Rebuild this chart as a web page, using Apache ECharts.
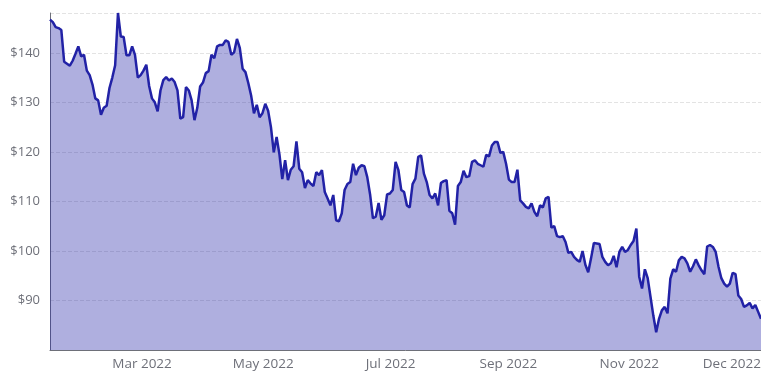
<!DOCTYPE html>
<html>
<head>
<meta charset="utf-8">
<script src="https://cdn.jsdelivr.net/npm/echarts@6/dist/echarts.min.js"></script>
<style>
  html, body { margin: 0; padding: 0; background: #ffffff; }
  #chart { width: 761px; height: 375px; }
</style>
</head>
<body>
<div id="chart"></div>
<script>
// Trading-day window and market holidays
const startDate = '2021-12-29';
const endDate = '2022-12-28';
const holidays = ['2022-01-17', '2022-02-21', '2022-04-15', '2022-05-30',
                  '2022-06-20', '2022-07-04', '2022-09-05', '2022-11-24', '2022-12-26'];

// Closing prices (USD), one per trading day, grouped by month
const dec2021 = [146.7, 146.2, 145.2];
const jan = [145.0, 144.6, 138.2, 137.8, 137.4, 138.4, 139.8, 141.3, 139.3, 139.6,
             136.4, 135.5, 133.6, 130.8, 130.4, 127.5, 128.9, 129.3, 132.9, 135.0];
const feb = [137.5, 148.04, 143.3, 143.2, 139.5, 139.5, 141.3, 139.6, 135.0, 135.5,
             136.4, 137.6, 133.3, 130.8, 130.0, 128.2, 132.4, 134.5, 135.1];
const mar = [134.4, 134.8, 134.1, 132.4, 126.7, 127.0, 133.1, 132.4, 130.4, 126.4,
             128.9, 133.2, 134.0, 135.9, 136.3, 139.6, 138.9, 141.3, 141.6, 141.6,
             142.5, 142.2, 139.6];
const apr = [140.1, 142.8, 141.0, 136.8, 136.1, 133.9, 131.4, 127.8, 129.5, 127.0,
             127.8, 129.7, 128.3, 125.0, 119.9, 123.0, 119.5, 114.5, 118.3, 114.3];
const may = [116.4, 117.1, 122.1, 116.6, 115.9, 112.7, 114.3, 113.6, 113.1, 115.9,
             115.3, 116.3, 111.9, 110.6, 109.2, 111.3, 106.2, 106.0, 107.6, 112.3, 113.5];
const jun = [113.9, 117.6, 115.3, 116.8, 117.3, 117.1, 114.9, 111.4, 106.6, 106.9,
             109.7, 106.3, 107.2, 111.4, 111.6, 112.3, 118.0, 116.3, 112.3, 111.9, 109.2];
const jul = [108.8, 113.5, 114.6, 119.0, 119.3, 115.6, 113.9, 111.3, 110.6, 111.6,
             109.2, 113.7, 114.1, 114.3, 108.1, 107.6, 105.3, 113.1, 113.9, 116.2];
const aug = [114.9, 115.1, 118.0, 118.3, 117.6, 117.3, 117.0, 119.4, 119.1, 121.3,
             122.0, 122.0, 119.8, 120.0, 117.6, 114.4, 113.9, 113.9, 116.4, 110.2,
             109.6, 108.9, 108.6];
const sep = [109.6, 107.9, 107.0, 109.2, 108.8, 110.6, 110.9, 104.7, 105.0, 103.0,
             102.8, 103.0, 101.8, 99.6, 99.8, 98.8, 98.2, 97.8, 100.0, 97.2, 95.7];
const oct = [98.5, 101.6, 101.5, 101.4, 98.8, 97.8, 97.1, 97.5, 99.0, 96.7,
             99.8, 100.8, 99.8, 100.2, 101.2, 102.0, 104.5, 94.8, 92.4, 96.3, 94.5];
const nov = [90.7, 86.9, 83.6, 86.3, 88.0, 88.7, 87.4, 94.4, 96.3, 95.8,
             98.1, 98.8, 98.5, 97.5, 95.8, 96.9, 98.3, 97.1, 96.1, 95.3, 100.9];
const dec = [101.2, 100.8, 99.8, 96.8, 94.5, 93.4, 92.8, 93.4, 95.6, 95.3,
             91.0, 90.3, 88.7, 89.0, 89.5, 88.4, 89.1, 87.7, 86.3];

const monthNames = ['Jan', 'Feb', 'Mar', 'Apr', 'May', 'Jun', 'Jul', 'Aug', 'Sep', 'Oct', 'Nov', 'Dec'];
const yAxisMin = 80;
const yAxisStep = 10;

// Build the list of trading dates (weekdays that are not holidays)
function pad(n) { return n < 10 ? '0' + n : '' + n; }
const dates = [];
{
  const d = new Date(startDate + 'T00:00:00Z');
  const end = new Date(endDate + 'T00:00:00Z');
  while (d <= end) {
    const s = d.getUTCFullYear() + '-' + pad(d.getUTCMonth() + 1) + '-' + pad(d.getUTCDate());
    const wd = d.getUTCDay();
    if (wd !== 0 && wd !== 6 && holidays.indexOf(s) < 0) dates.push(s);
    d.setUTCDate(d.getUTCDate() + 1);
  }
}
const prices = [].concat(dec2021, jan, feb, mar, apr, may, jun, jul, aug, sep, oct, nov, dec);
const seriesData = dates.map((d, i) => [d, prices[i]]);

const lineColor = '#2222a6';
const fontFamily = '"Open Sans", "Noto Sans", sans-serif';

const chart = echarts.init(document.getElementById('chart'), null, { renderer: 'canvas' });
chart.setOption({
  animation: false,
  backgroundColor: '#ffffff',
  textStyle: { fontFamily: fontFamily },
  grid: { left: 50, right: 0, top: 13, bottom: 25, containLabel: false, outerBoundsMode: 'none' },
  xAxis: {
    type: 'category',
    data: dates,
    boundaryGap: false,
    axisLine: { show: true, lineStyle: { color: '#6E7079' } },
    axisTick: { show: false },
    splitLine: { show: false },
    axisLabel: {
      interval: 42,
      showMinLabel: false,
      showMaxLabel: true,
      align: 'right',
      margin: 7,
      color: '#6E7079',
      fontFamily: fontFamily,
      fontSize: 13.5,
      formatter: function (v) {
        const p = v.split('-');
        return monthNames[parseInt(p[1], 10) - 1] + ' ' + p[0];
      }
    }
  },
  yAxis: {
    type: 'value',
    min: yAxisMin,
    max: 'dataMax',
    interval: yAxisStep,
    axisLine: { show: true, lineStyle: { color: '#6E7079' } },
    axisTick: { show: false },
    splitLine: { show: true, lineStyle: { color: '#e3e3e3', type: 'dashed' } },
    axisLabel: {
      showMinLabel: false,
      showMaxLabel: false,
      margin: 10,
      color: '#6E7079',
      fontFamily: fontFamily,
      fontSize: 13,
      formatter: function (v) { return '$' + v; }
    }
  },
  series: [{
    type: 'line',
    data: seriesData,
    showSymbol: false,
    symbol: 'none',
    smooth: false,
    lineStyle: { color: lineColor, width: 2.5 },
    itemStyle: { color: lineColor },
    areaStyle: { color: lineColor, opacity: 0.36 }
  }]
});
</script>
</body>
</html>
